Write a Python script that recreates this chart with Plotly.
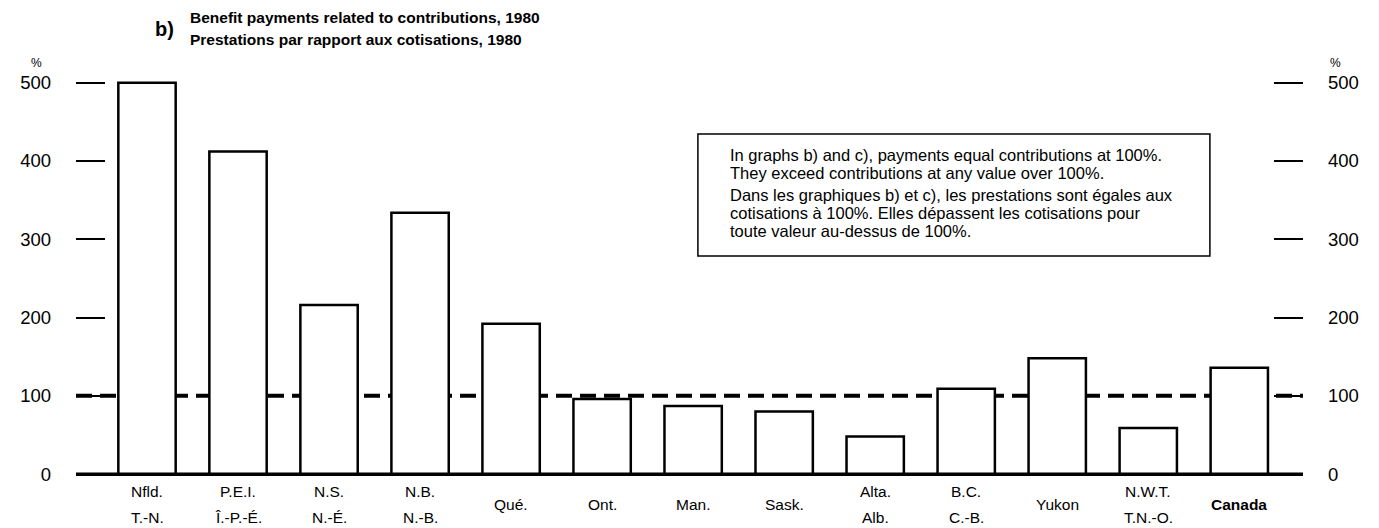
import plotly.graph_objects as go

# data
regions = ["Nfld.", "P.E.I.", "N.S.", "N.B.", "Qué.", "Ont.", "Man.", "Sask.",
           "Alta.", "B.C.", "Yukon", "N.W.T.", "Canada"]
regions_fr = ["T.-N.", "Î.-P.-É.", "N.-É.", "N.-B.", "", "", "", "",
              "Alb.", "C.-B.", "", "T.N.-O.", ""]
ratio_pct = [500, 412, 216, 334, 192, 96, 87, 80, 48, 109, 148, 59, 136]
parity = 100
y_ticks = [0, 100, 200, 300, 400, 500]

title_en = "Benefit payments related to contributions, 1980"
title_fr = "Prestations par rapport aux cotisations, 1980"
note_lines = [
    "In graphs b) and c), payments equal contributions at 100%.",
    "They exceed contributions at any value over 100%.",
    "Dans les graphiques b) et c), les prestations sont égales aux",
    "cotisations à 100%. Elles dépassent les cotisations pour",
    "toute valeur au-dessus de 100%.",
]

# the page body has an 8px margin, so the figure is shrunk by that much
OFF = 8
W, H = 1379 - OFF, 528 - OFF
PL, PR, PT, PB = 64, 1303, 67, 482          # plot area in window pixels
FONT = "Liberation Sans, Arial, Helvetica, sans-serif"


def px(x):
    return (x - PL) / (PR - PL)


def py(y):
    return (PB - y) / (PB - PT)


fig = go.Figure()

fig.add_trace(go.Bar(
    x=regions,
    y=ratio_pct,
    marker=dict(color="white", line=dict(color="black", width=2.5)),
    hoverinfo="x+y",
    showlegend=False
))

# invisible trace so the right-hand axis is drawn
fig.add_trace(go.Scatter(
    x=[regions[0]], y=[0], yaxis="y2", mode="markers",
    marker=dict(opacity=0), hoverinfo="skip", showlegend=False
))

axis_y = dict(
    range=[-10, 520],
    tickvals=y_ticks,
    ticks="inside",
    ticklen=29,
    tickwidth=2,
    tickcolor="black",
    ticklabelstandoff=24,
    showgrid=False,
    zeroline=False,
    showline=False,
    tickfont=dict(size=18.5, color="black", family=FONT)
)

fig.update_layout(
    width=W, height=H,
    margin=dict(l=PL - OFF, r=W + OFF - PR, t=PT - OFF, b=H + OFF - PB),
    paper_bgcolor="white",
    plot_bgcolor="white",
    font=dict(family=FONT, color="black"),
    bargap=0.37,
    xaxis=dict(range=[-0.78, 12.7], showticklabels=False, ticks="",
               showgrid=False, zeroline=False, showline=False),
    yaxis=axis_y,
    yaxis2=dict(axis_y, overlaying="y", side="right"),
    shapes=[
        # 100% parity line, behind the bars
        dict(type="line", xref="paper", yref="y", x0=0, x1=1,
             y0=parity, y1=parity, layer="below",
             line=dict(color="black", width=4, dash="16px,8px")),
        # baseline
        dict(type="line", xref="paper", yref="y", x0=0, x1=1, y0=0, y1=0,
             layer="above", line=dict(color="black", width=3.5)),
        # note box
        dict(type="rect", xref="paper", yref="paper",
             x0=px(692), x1=px(1209), y0=py(256), y1=py(134),
             line=dict(color="black", width=1.5), fillcolor="white",
             layer="above"),
    ]
)

ann = []
# category labels (two lines, or one line centred)
for name, fr in zip(regions, regions_fr):
    txt = f"<b>{name}</b>" if name == "Canada" else name
    if fr:
        ann.append(dict(x=name, y=py(491), xref="x", yref="paper", text=txt,
                        showarrow=False, yanchor="middle", font=dict(size=15.5)))
        ann.append(dict(x=name, y=py(517), xref="x", yref="paper", text=fr,
                        showarrow=False, yanchor="middle", font=dict(size=15.5)))
    else:
        ann.append(dict(x=name, y=py(504), xref="x", yref="paper", text=txt,
                        showarrow=False, yanchor="middle", font=dict(size=15.5)))

# titles
ann.append(dict(x=px(142), y=py(29), xref="paper", yref="paper", text="<b>b)</b>",
                showarrow=False, xanchor="left", yanchor="middle", font=dict(size=20)))
ann.append(dict(x=px(177), y=py(17), xref="paper", yref="paper", text=f"<b>{title_en}</b>",
                showarrow=False, xanchor="left", yanchor="middle", font=dict(size=15.5)))
ann.append(dict(x=px(177), y=py(40), xref="paper", yref="paper", text=f"<b>{title_fr}</b>",
                showarrow=False, xanchor="left", yanchor="middle", font=dict(size=15.5)))

# % unit labels
ann.append(dict(x=px(17), y=py(63), xref="paper", yref="paper", text="%",
                showarrow=False, yanchor="middle", font=dict(size=12)))
ann.append(dict(x=px(1343), y=py(63), xref="paper", yref="paper", text="%",
                showarrow=False, yanchor="middle", font=dict(size=12)))

# note text, one annotation per printed line
for line, yy in zip(note_lines, [155, 173, 195, 213, 231]):
    ann.append(dict(x=px(722), y=py(yy), xref="paper", yref="paper", text=line,
                    showarrow=False, xanchor="left", yanchor="middle", align="left",
                    font=dict(size=16.5)))

fig.update_layout(annotations=ann)

fig.write_html("out.html")
